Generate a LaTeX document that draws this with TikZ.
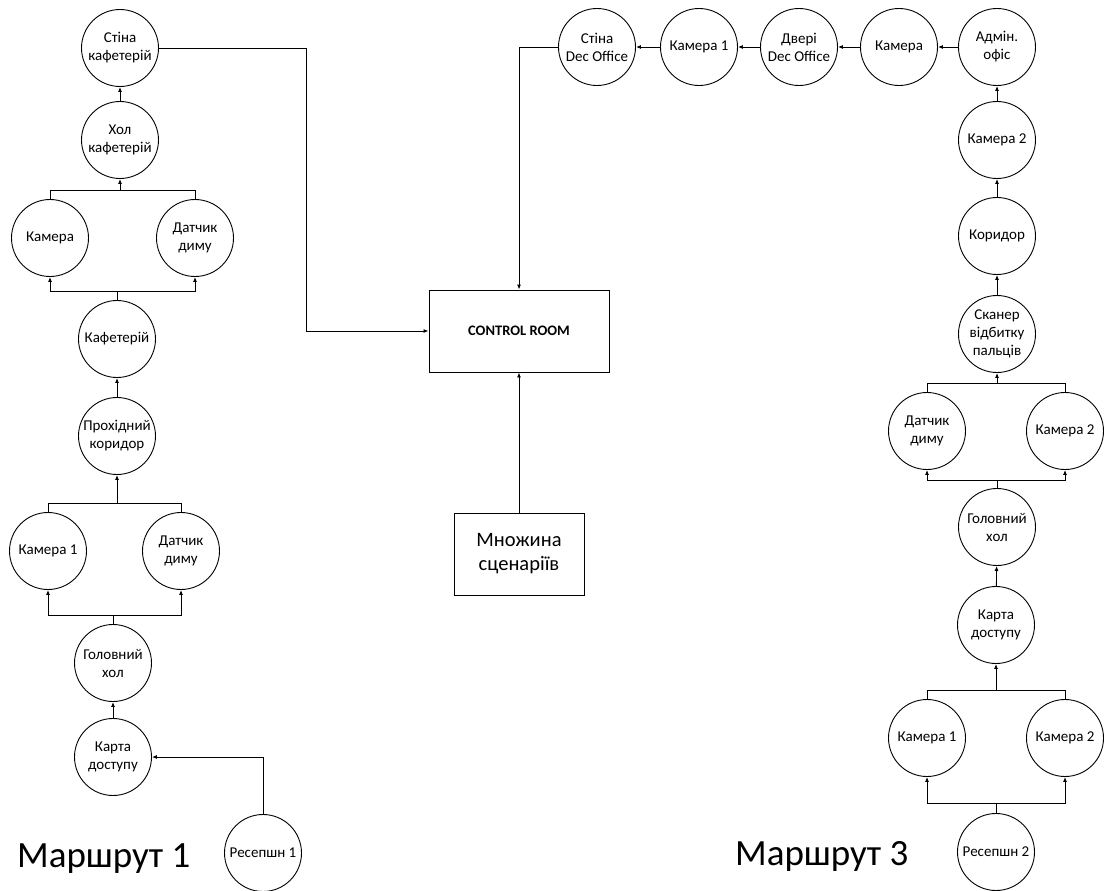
\documentclass[tikz,border=0pt]{standalone}
\usepackage{fontspec}
\setmainfont{Carlito}
\usetikzlibrary{arrows.meta}
\tikzset{
  st/.style={draw, circle, minimum size=77pt, inner sep=0pt, align=center, line width=0.9pt, font=\fontsize{15}{18}\selectfont},
  boxnode/.style={draw, rectangle, line width=0.9pt, inner sep=0pt, align=center},
  arr/.style={line width=0.9pt, -{Latex[length=5pt,width=4pt]}},
  ln/.style={line width=0.9pt},
  route/.style={anchor=base west, inner sep=0pt, font=\fontsize{37}{40}\selectfont}
}
\begin{document}
\begin{tikzpicture}[x=1pt,y=-1pt]
\useasboundingbox (0,0) rectangle (1104,891);
% Route 1
\node[st] (s1) at (120,48) {Стіна\\кафетерій};
\node[st] (h1) at (120,140) {Хол\\кафетерій};
\node[st] (c1) at (50,238) {Камера};
\node[st] (d1) at (195,238) {Датчик\\диму};
\node[st] (k1) at (117,339) {Кафетерій};
\node[st] (p1) at (117,436) {Прохідний\\коридор};
\node[st] (c2) at (48,551) {Камера 1};
\node[st] (d2) at (181,551) {Датчик\\диму};
\node[st] (g1) at (113,663) {Головний\\хол};
\node[st] (a1) at (113,757) {Карта\\доступу};
\node[st] (r1) at (263,853) {Ресепшн 1};
\node[route] (m1) at (17,867) {Маршрут 1};
% Centre
\node[boxnode, minimum width=180pt, minimum height=82pt, font=\bfseries\fontsize{14.5}{17}\selectfont] (cr) at (519,331) {CONTROL ROOM};
\node[boxnode, minimum width=130pt, minimum height=82pt, font=\fontsize{20.5}{24}\selectfont] (ms) at (519,554) {Множина\\сценаріїв};
% Route 3 top row
\node[st] (sd) at (597,47) {Стіна\\Dec Office};
\node[st] (k31) at (699,47) {Камера 1};
\node[st] (dd) at (799,47) {Двері\\Dec Office};
\node[st] (k3) at (899,47) {Камера};
\node[st] (ao) at (997,47) {Адмін.\\офіс};
% Route 3 column
\node[st] (k32) at (997,140) {Камера 2};
\node[st] (kor) at (997,236) {Коридор};
\node[st] (sk) at (997,334) {Сканер\\відбитку\\пальців};
\node[st] (d3) at (927,431) {Датчик\\диму};
\node[st] (k33) at (1065,431) {Камера 2};
\node[st] (g3) at (997,527) {Головний\\хол};
\node[st] (a3) at (996,625) {Карта\\доступу};
\node[st] (k34) at (927,738) {Камера 1};
\node[st] (k35) at (1065,738) {Камера 2};
\node[st] (r3) at (996,852) {Ресепшн 2};
\node[route] (m3) at (735,865) {Маршрут 3};
% Route 1 connectors
\draw[arr] (r1.north) |- (a1.east);
\draw[arr] (a1) -- (g1);
\draw[arr] (g1.north) -- (g1.north |- 0,615) -| (c2.south);
\draw[arr] (g1.north) -- (g1.north |- 0,615) -| (d2.south);
\draw[ln] (c2.north) |- (d2.north |- 0,503) -- (d2.north);
\draw[arr] (p1.south |- 0,503) -- (p1.south);
\draw[arr] (p1) -- (k1);
\draw[arr] (k1.north) -- (k1.north |- 0,291) -| (c1.south);
\draw[arr] (k1.north) -- (k1.north |- 0,291) -| (d1.south);
\draw[ln] (c1.north) |- (d1.north |- 0,190) -- (d1.north);
\draw[arr] (h1.south |- 0,190) -- (h1.south);
\draw[arr] (h1) -- (s1);
\coordinate (j1) at (306,48);
\draw[arr] (s1.east) -- (j1) |- (cr.west);
% Centre connectors
\draw[arr] (ms) -- (cr);
\coordinate (j2) at (519,47);
\draw[arr] (sd.west) -- (j2) -- (cr.north);
% Route 3 connectors
\draw[arr] (r3.north) -- (r3.north |- 0,803) -| (k34.south);
\draw[arr] (r3.north) -- (r3.north |- 0,803) -| (k35.south);
\draw[ln] (k34.north) |- (k35.north |- 0,690) -- (k35.north);
\draw[arr] (a3.south |- 0,690) -- (a3.south);
\draw[arr] (a3) -- (g3);
\draw[arr] (g3.north) -- (g3.north |- 0,480) -| (d3.south);
\draw[arr] (g3.north) -- (g3.north |- 0,480) -| (k33.south);
\draw[ln] (d3.north) |- (k33.north |- 0,383) -- (k33.north);
\draw[arr] (sk.south |- 0,383) -- (sk.south);
\draw[arr] (sk) -- (kor);
\draw[arr] (kor) -- (k32);
\draw[arr] (k32) -- (ao);
\draw[arr] (ao) -- (k3);
\draw[arr] (k3) -- (dd);
\draw[arr] (dd) -- (k31);
\draw[arr] (k31) -- (sd);
\end{tikzpicture}
\end{document}
